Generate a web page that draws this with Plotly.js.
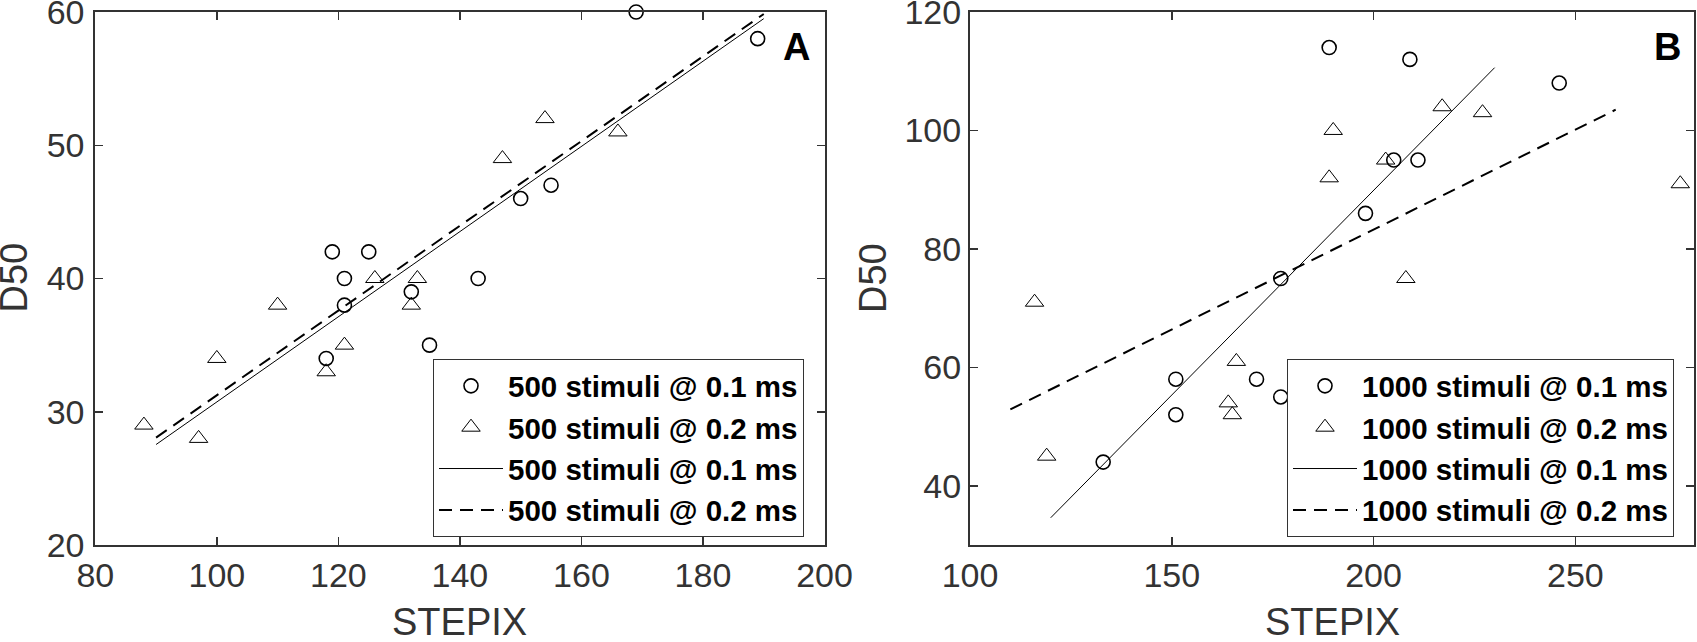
<!DOCTYPE html>
<html><head><meta charset="utf-8">
<script src="https://cdn.plot.ly/plotly-3.0.1.min.js"></script>
<style>html,body{margin:0;padding:0;background:#fff}#chart{width:1697px;height:642px}</style>
</head><body><div id="chart"></div>
<script>
// ---- Panel A (500 stimuli) ----
const a01X = [169, 189, 119, 125, 121, 121, 118, 132, 135, 143, 150, 155];
const a01Y = [60, 58, 42, 42, 40, 38, 34, 39, 35, 40, 46, 47];
const a02X = [88, 97, 100, 110, 118, 121, 126, 133, 132, 147, 154, 166];
const a02Y = [29, 28, 34, 38, 33, 35, 40, 40, 38, 49, 52, 51];
const aFitX = [90, 190];
const aFit01Y = [27.54, 59.5];
const aFit02Y = [28.06, 59.85];
// ---- Panel B (1000 stimuli) ----
const b01X = [189, 209, 246, 205, 211, 198, 177, 151, 151, 171, 177, 133];
const b01Y = [114, 112, 108, 95, 95, 86, 75, 58, 52, 58, 55, 44];
const b02X = [116, 119, 164, 165, 166, 189, 190, 203, 208, 217, 227, 276];
const b02Y = [71, 45, 54, 52, 61, 92, 100, 95, 75, 104, 103, 91];
const bFit01X = [120, 230];
const bFit01Y = [34.6, 110.6];
const bFit02X = [110, 260];
const bFit02Y = [52.9, 103.5];
// ---- Labels ----
const namesA = ['500 stimuli @ 0.1 ms', '500 stimuli @ 0.2 ms'];
const namesB = ['1000 stimuli @ 0.1 ms', '1000 stimuli @ 0.2 ms'];
const xTitle = 'STEPIX';
const yTitle = 'D50';
const panelLabels = ['A', 'B'];

const FONT = 'Liberation Sans, Arial, Helvetica, sans-serif';
const AX = '#333333';
const W = 1697, H = 642, MT = 12.3, MB = 97.4;
const PH = H - MT - MB;
const px2x = p => p / W;
const py2y = p => 1 - (p - MT) / PH;

function circ(x, y, name, xa, ya, leg) {
  return {x, y, name, type: 'scatter', mode: 'markers', xaxis: xa, yaxis: ya, legend: leg, cliponaxis: false,
    marker: {symbol: 'circle-open', size: 14, color: 'black', line: {width: 1.6, color: 'black'}}};
}
function tri(x, y, name, xa, ya, leg) {
  return {x, y, name, type: 'scatter', mode: 'markers', xaxis: xa, yaxis: ya, legend: leg, cliponaxis: false,
    marker: {symbol: 'triangle-up-open', size: 16, color: 'black', line: {width: 1, color: 'black'}}};
}
function ln(x, y, name, xa, ya, leg, dashed) {
  return {x, y, name, type: 'scatter', mode: 'lines', xaxis: xa, yaxis: ya, legend: leg,
    line: dashed ? {color: 'black', width: 2, dash: '13px,8px'} : {color: 'black', width: 1}};
}

const data = [
  circ(a01X, a01Y, namesA[0], 'x', 'y', 'legend'),
  tri(a02X, a02Y, namesA[1], 'x', 'y', 'legend'),
  ln(aFitX, aFit01Y, namesA[0], 'x', 'y', 'legend', false),
  ln(aFitX, aFit02Y, namesA[1], 'x', 'y', 'legend', true),
  circ(b01X, b01Y, namesB[0], 'x2', 'y2', 'legend2'),
  tri(b02X, b02Y, namesB[1], 'x2', 'y2', 'legend2'),
  ln(bFit01X, bFit01Y, namesB[0], 'x2', 'y2', 'legend2', false),
  ln(bFit02X, bFit02Y, namesB[1], 'x2', 'y2', 'legend2', true)
];

function axis(extra) {
  return Object.assign({
    ticks: 'inside', ticklen: 8, tickwidth: 1.5, tickcolor: AX,
    showline: true, linewidth: 2, linecolor: AX, mirror: 'ticks',
    showgrid: false, zeroline: false, fixedrange: true, ticklabeloverflow: 'allow',
    tickfont: {family: FONT, size: 34, color: AX},
  }, extra);
}

const legendBase = {
  xanchor: 'left', yanchor: 'top', y: py2y(359),
  bgcolor: 'white', bordercolor: AX, borderwidth: 1,
  font: {family: FONT, size: 29.5, color: 'black', weight: 'bold'},
  itemwidth: 64, tracegroupgap: 0
};

const titleFont = {family: FONT, size: 38, color: AX};

const layout = {
  width: W, height: H,
  margin: {l: 0, r: 0, t: MT, b: MB, pad: 0},
  paper_bgcolor: 'white', plot_bgcolor: 'white',
  font: {family: FONT, color: AX},
  showlegend: true,
  xaxis: axis({domain: [95.3 / W, 824.5 / W], range: [80, 200], tick0: 0, dtick: 20, anchor: 'y',
    ticklabelstandoff: -1}),
  yaxis: axis({range: [20, 60], tick0: 0, dtick: 10, anchor: 'x', ticklabelstandoff: 2}),
  xaxis2: axis({domain: [970 / W, 1694.4 / W], range: [100, 279.5], tick0: 0, dtick: 50, anchor: 'y2',
    ticklabelstandoff: -1}),
  yaxis2: axis({range: [30, 120], tick0: 0, dtick: 20, anchor: 'x2', ticklabelstandoff: 0}),
  legend: Object.assign({}, legendBase, {x: px2x(433)}),
  legend2: Object.assign({}, legendBase, {x: px2x(1287)}),
  annotations: [
    // axis titles
    {text: xTitle, xref: 'paper', yref: 'paper', x: px2x(459.5), y: py2y(621), xanchor: 'center', yanchor: 'middle',
      showarrow: false, font: titleFont},
    {text: xTitle, xref: 'paper', yref: 'paper', x: px2x(1332.2), y: py2y(621), xanchor: 'center', yanchor: 'middle',
      showarrow: false, font: titleFont},
    {text: yTitle, xref: 'paper', yref: 'paper', x: px2x(14.5), y: py2y(278), xanchor: 'center', yanchor: 'middle',
      textangle: -90, showarrow: false, font: titleFont},
    {text: yTitle, xref: 'paper', yref: 'paper', x: px2x(873), y: py2y(278), xanchor: 'center', yanchor: 'middle',
      textangle: -90, showarrow: false, font: titleFont},
    // panel labels
    {text: panelLabels[0], xref: 'x domain', yref: 'y domain', x: 0.9616, y: 0.934, xanchor: 'center', yanchor: 'middle',
      showarrow: false, font: {family: FONT, size: 38, color: 'black', weight: 'bold'}},
    {text: panelLabels[1], xref: 'x2 domain', yref: 'y2 domain', x: 0.963, y: 0.935, xanchor: 'center', yanchor: 'middle',
      showarrow: false, font: {family: FONT, size: 38, color: 'black', weight: 'bold'}}
  ]
};

Plotly.newPlot('chart', data, layout, {displayModeBar: false, staticPlot: true});
</script></body></html>
